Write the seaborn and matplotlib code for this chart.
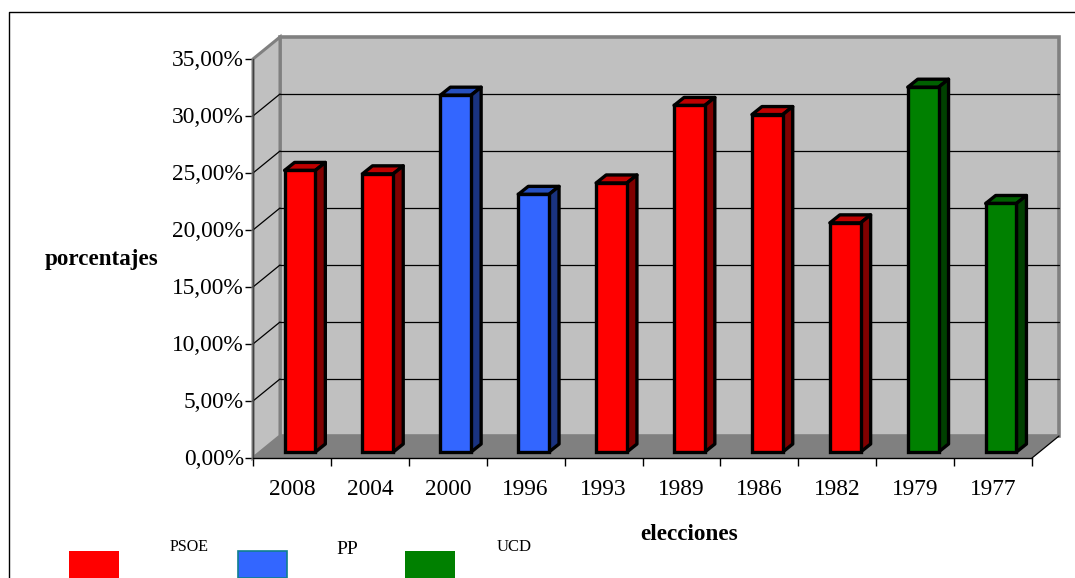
import matplotlib
matplotlib.use("Agg")
import matplotlib.pyplot as plt
import pandas as pd
import seaborn as sns
from matplotlib.colors import to_hex
from matplotlib.lines import Line2D
from matplotlib.patches import Polygon, Rectangle
from matplotlib.transforms import Affine2D

elecciones = ["2008", "2004", "2000", "1996", "1993", "1989", "1986", "1982", "1979", "1977"]
porcentajes = [24.7, 24.4, 31.3, 22.6, 23.6, 30.4, 29.6, 20.1, 32.0, 21.8]
partidos = ["PSOE", "PSOE", "PP", "PP", "PSOE", "PSOE", "PSOE", "PSOE", "UCD", "UCD"]
yticks = [0, 5, 10, 15, 20, 25, 30, 35]

colores = {"PSOE": "#ff0000", "PP": "#3366ff", "UCD": "#008000"}
techo = {"#ff0000": "#c00000", "#3366ff": "#2650c0", "#008000": "#006000"}
lateral = {"#ff0000": "#800000", "#3366ff": "#1a3380", "#008000": "#004000"}

W, H = 1075, 578


def px_x(x):
    return x / W


def px_y(y):
    return 1 - y / H


sns.set_theme(style="white")
plt.rcParams["font.family"] = ["Liberation Serif", "DejaVu Serif"]

df = pd.DataFrame({"eleccion": elecciones, "pct": porcentajes, "partido": partidos})

fig = plt.figure(figsize=(W / 100, H / 100), dpi=100)
ax = fig.add_axes([px_x(253), px_y(458), px_x(1032) - px_x(253), px_y(59) - px_y(458)])
ax.patch.set_visible(False)

sns.barplot(
    data=df, x="eleccion", y="pct", hue="partido", palette=colores,
    order=elecciones, dodge=False, width=0.395, legend=False, saturation=1,
    edgecolor="black", linewidth=2.4, ax=ax, zorder=5,
)
ax.set_xlim(-0.5, 9.5)
ax.set_ylim(0, 35)


# profundidad del falso 3D, en pixeles
def desplazado(dx, dy):
    return ax.transData + Affine2D().translate(dx, dy)


x0, x1 = ax.get_xlim()
gris_borde = "#808080"
px_por_cat = 77.9
px_por_pct = 11.4
prof_x = 27 / px_por_cat
prof_y = 22 / px_por_pct
barras = list(ax.patches)

# paredes y suelo
ax.add_patch(Rectangle((x0, 0), x1 - x0, 35, transform=desplazado(27, 22), fc="#c0c0c0", ec=gris_borde,
                       lw=2.6, zorder=1, clip_on=False))
ax.add_patch(Polygon([(x0, 0), (x0, 35), (x0 + prof_x, 35 + prof_y), (x0 + prof_x, prof_y)], closed=True,
                     fc="#c0c0c0", ec=gris_borde, lw=2.2, zorder=1, clip_on=False))
ax.add_patch(Polygon([(x0, 0), (x1, 0), (x1 + prof_x, prof_y), (x0 + prof_x, prof_y)], closed=True,
                     fc="#808080", ec="none", zorder=2, clip_on=False))
ax.add_line(Line2D([x1, x1 + prof_x], [0, prof_y], color="black", lw=0.9, zorder=3, clip_on=False))

# lineas de division en pared del fondo y pared lateral
for v in yticks[1:-1]:
    ax.add_line(Line2D([x0, x1], [v, v], transform=desplazado(27, 22), color="black", lw=0.9, zorder=2, clip_on=False))
    ax.add_line(Line2D([x0, x0 + prof_x], [v, v + prof_y], color="black", lw=0.9, zorder=2, clip_on=False))

# barras: cara frontal de seaborn, mas techo y lateral desde la misma geometria
t_barra = desplazado(8, 6)
dx_b = 10 / px_por_cat
dy_b = 8 / px_por_pct
for bar in barras:
    bx, by, bw, bh = bar.get_x(), bar.get_y(), bar.get_width(), bar.get_height()
    color = to_hex(bar.get_facecolor())
    bar.set_transform(t_barra)
    bar.set_clip_on(False)
    bar.set_zorder(7)
    ax.add_patch(Polygon([(bx, by + bh), (bx + dx_b, by + bh + dy_b), (bx + bw + dx_b, by + bh + dy_b), (bx + bw, by + bh)],
                         closed=True, transform=t_barra, fc=techo[color], ec="black", lw=2.4, joinstyle="round",
                         zorder=6, clip_on=False))
    ax.add_patch(Polygon([(bx + bw, by), (bx + bw + dx_b, by + dy_b), (bx + bw + dx_b, by + bh + dy_b), (bx + bw, by + bh)],
                         closed=True, transform=t_barra, fc=lateral[color], ec="black", lw=2.4, joinstyle="round",
                         zorder=6, clip_on=False))

# ejes
for s in ["top", "right"]:
    ax.spines[s].set_visible(False)
for s in ["left", "bottom"]:
    ax.spines[s].set_color("black")
    ax.spines[s].set_linewidth(1.0)
    ax.spines[s].set_zorder(8)
ax.spines["left"].set_color("#404040")

ax.set_yticks(yticks)
ax.set_yticklabels([f"{v:.2f}".replace(".", ",") + "%" for v in yticks], fontsize=16.8, color="black")
ax.set_xticks(range(len(elecciones)))
ax.set_xticklabels(elecciones, fontsize=16.8, color="black")
ax.set_xticks([i - 0.5 for i in range(len(elecciones) + 1)], minor=True)
ax.tick_params(axis="y", which="major", length=6, width=1, color="black", left=True, pad=0.6)
ax.tick_params(axis="x", which="major", length=0, pad=15)
ax.tick_params(axis="x", which="minor", length=6, width=1, color="black", bottom=True)
for lab in ax.get_yticklabels():
    lab.set_y(lab.get_position()[1])
    lab.set_transform(lab.get_transform() + Affine2D().translate(0, 1))

ax.set_xlabel("elecciones", fontsize=16.7, fontweight="bold", color="black")
ax.xaxis.set_label_coords((689 - 253) / 779, -(535 - 458) / 399)
ax.xaxis.label.set_va("center")
ax.set_ylabel("porcentajes", fontsize=16.6, fontweight="bold", color="black", rotation=0, ha="center", va="center")
ax.yaxis.set_label_coords((101.5 - 253) / 779, (458 - 260) / 399)

# marco exterior del grafico
fig.add_artist(Line2D([px_x(9), px_x(9), 1], [0, px_y(12), px_y(12)], color="black", lw=1.0))

# leyenda suelta
leyenda = [("PSOE", 69, 119, 170, 547, 11.5), ("PP", 238, 287, 336, 549, 14), ("UCD", 405, 455, 497, 547, 12)]
for nombre, xa, xb, tx, ty, fs in leyenda:
    ec = "#0f7f8f" if nombre == "PP" else "none"
    fig.add_artist(Rectangle((px_x(xa), 0), px_x(xb) - px_x(xa), px_y(551), transform=fig.transFigure,
                             fc=colores[nombre], ec=ec, lw=1.2))
    fig.text(px_x(tx), px_y(ty), nombre, fontsize=fs, color="black", ha="left", va="center")

fig.savefig("out.png", dpi=100)
